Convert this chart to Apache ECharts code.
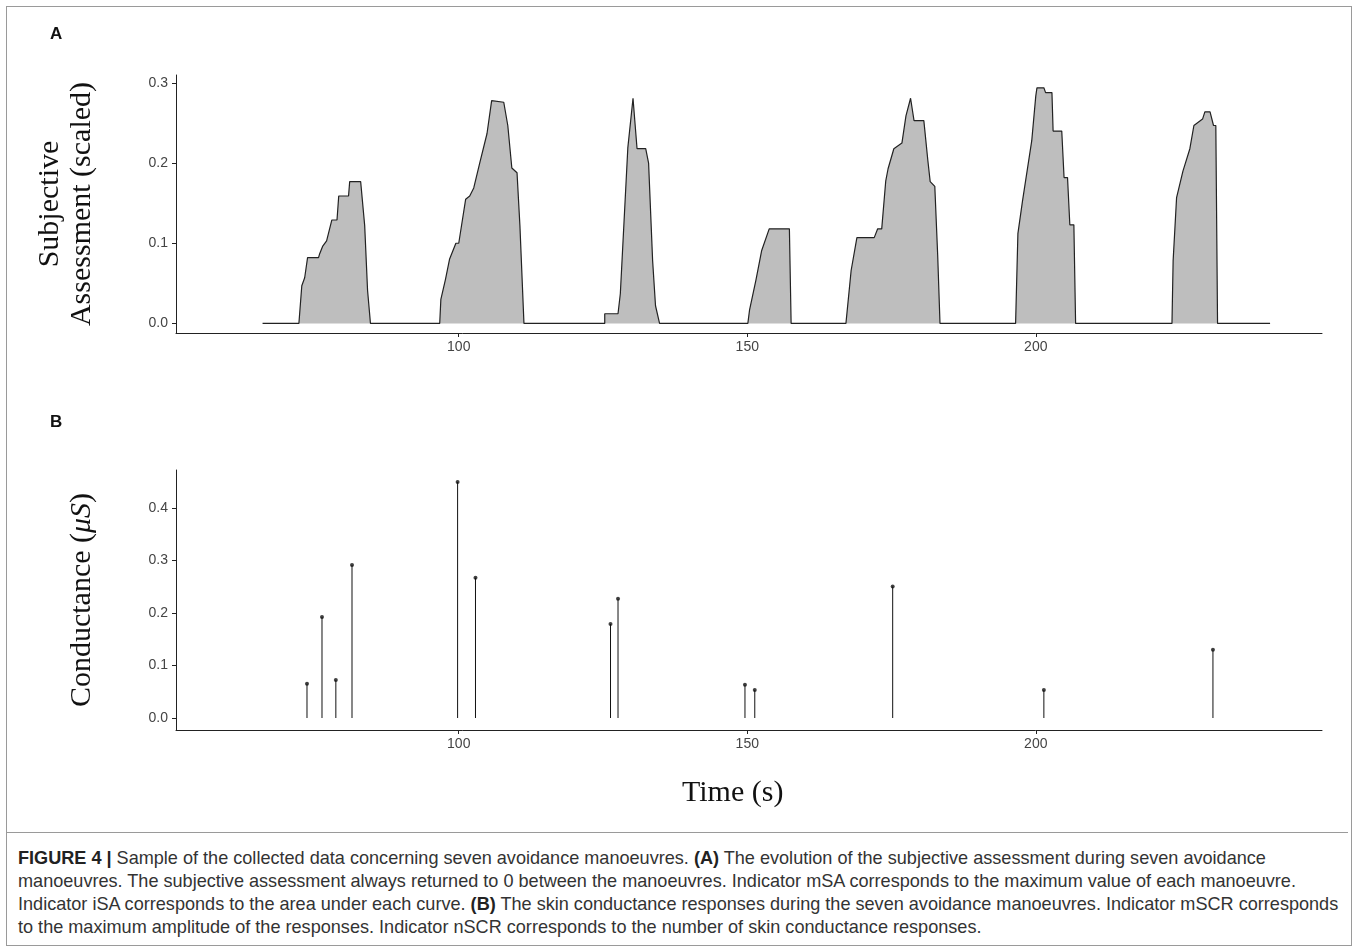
<!DOCTYPE html>
<html>
<head>
<meta charset="utf-8">
<title>Figure 4</title>
<script src="https://cdn.jsdelivr.net/npm/echarts@6/dist/echarts.min.js"></script>
<style>
  body { margin: 0; background: #fff; font-family: "Liberation Sans", Arial, sans-serif; }
  #frame { position: absolute; left: 6px; top: 6px; width: 1344px; height: 938px; border: 1px solid #9a9a9a; }
  #chart { position: absolute; left: 0; top: 0; width: 1358px; height: 830px; }
  #caption { position: absolute; left: 6px; top: 832px; width: 1330px; padding: 14px 0 10px 12px; border-top: 1px solid #9a9a9a;
             font-family: "Liberation Sans", sans-serif;
             font-size: 18.1px; line-height: 23px; color: #333; white-space: nowrap; }
  #caption b { color: #222; }
</style>
</head>
<body>
<div id="frame"></div>
<div id="chart"></div>
<div id="caption"><b>FIGURE 4 |</b> Sample of the collected data concerning seven avoidance manoeuvres. <b>(A)</b> The evolution of the subjective assessment during seven avoidance<br>manoeuvres. The subjective assessment always returned to 0 between the manoeuvres. Indicator mSA corresponds to the maximum value of each manoeuvre.<br>Indicator iSA corresponds to the area under each curve. <b>(B)</b> The skin conductance responses during the seven avoidance manoeuvres. Indicator mSCR corresponds<br>to the maximum amplitude of the responses. Indicator nSCR corresponds to the number of skin conductance responses.</div>
<script>
// panel A: subjective assessment, [time, value]
var saTime = [66.0,72.3,72.8,73.3,73.8,75.7,75.9,76.4,77.1,78.0,78.9,79.2,80.9,81.1,83.0,83.7,84.2,84.7,
  96.7,96.9,97.7,98.4,99.5,100.0,101.2,101.9,102.6,103.6,104.9,105.7,107.8,108.5,109.2,110.1,110.6,111.3,
  125.3,125.3,127.6,128.0,129.3,130.2,130.9,132.4,132.9,133.6,134.1,134.8,
  150.1,150.4,151.5,152.5,153.8,157.3,157.6,
  167.1,168.0,169.0,172.0,172.6,173.3,174.0,174.4,175.4,176.8,177.5,178.3,178.9,180.6,181.3,181.7,182.5,183.0,183.4,
  196.5,196.9,197.7,199.3,200.0,200.2,201.4,201.7,202.8,203.0,204.5,204.9,205.5,205.9,206.6,206.9,
  223.6,223.8,224.4,225.5,226.7,227.4,228.9,229.3,230.2,230.8,231.2,231.5,240.6];
var saValue = [0,0,0.047,0.057,0.082,0.082,0.087,0.096,0.103,0.129,0.129,0.159,0.159,0.177,0.177,0.122,0.041,0,
  0,0.03,0.055,0.08,0.10,0.10,0.155,0.159,0.169,0.199,0.237,0.278,0.276,0.247,0.194,0.188,0.122,0,
  0,0.012,0.012,0.037,0.219,0.281,0.218,0.218,0.20,0.078,0.022,0,
  0,0.017,0.054,0.091,0.118,0.118,0,
  0,0.066,0.107,0.107,0.118,0.118,0.178,0.193,0.218,0.225,0.259,0.281,0.253,0.253,0.203,0.177,0.171,0.085,0,
  0,0.112,0.153,0.228,0.284,0.294,0.294,0.288,0.288,0.24,0.24,0.182,0.182,0.123,0.123,0,
  0,0.078,0.157,0.19,0.218,0.247,0.255,0.264,0.264,0.247,0.247,0,0];

// panel B: skin conductance responses
var scrTime = [73.7,76.3,78.7,81.5,99.8,102.9,126.3,127.6,149.6,151.3,175.2,201.4,230.7];
var scrAmp = [0.065,0.192,0.072,0.291,0.449,0.267,0.179,0.227,0.063,0.053,0.25,0.053,0.13];

var xTicks = [100, 150, 200];
var yTicksA = [0, 0.1, 0.2, 0.3];
var yTicksB = [0, 0.1, 0.2, 0.3, 0.4];

var saData = saTime.map(function (t, i) { return [t, saValue[i]]; });
var scrData = scrTime.map(function (t, i) { return [t, scrAmp[i]]; });

var chart = echarts.init(document.getElementById('chart'));
var lbl = { color: '#444', fontSize: 14, fontFamily: 'Liberation Sans' };
function xAxis(idx) {
  return {
    type: 'value', gridIndex: idx, min: 51, max: 249.6,
    axisLine: { onZero: false, lineStyle: { color: '#222' } },
    axisTick: { customValues: xTicks, length: 4, lineStyle: { color: '#222' } },
    axisLabel: Object.assign({ customValues: xTicks, margin: 7 }, lbl),
    splitLine: { show: false }
  };
}
function yAxis(idx, min, max, ticks, name) {
  return {
    type: 'value', gridIndex: idx, min: min, max: max,
    name: name, nameLocation: 'middle', nameGap: 78, nameRotate: 90,
    nameTextStyle: { fontFamily: 'Liberation Serif', fontSize: 30, color: '#111', lineHeight: 32,
      rich: { it: { fontFamily: 'Liberation Serif', fontStyle: 'italic', fontSize: 30, color: '#111' } } },
    axisLine: { show: true, lineStyle: { color: '#222' } },
    axisTick: { show: true, customValues: ticks, length: 4, lineStyle: { color: '#222' } },
    axisLabel: Object.assign({ customValues: ticks, margin: 8, formatter: function (v) { return v.toFixed(1); } }, lbl),
    splitLine: { show: false }
  };
}

chart.setOption({
  animation: false,
  grid: [
    { left: 176, right: 36, top: 75, height: 258 },
    { left: 176, right: 36, top: 470, height: 260 }
  ],
  graphic: [
    { type: 'text', left: 50, top: 26, style: { text: 'A', font: 'bold 17px "Liberation Sans"', fill: '#111' } },
    { type: 'text', left: 50, top: 414, style: { text: 'B', font: 'bold 17px "Liberation Sans"', fill: '#111' } },
    { type: 'text', left: 682, top: 778, style: { text: 'Time (s)', font: '30px "Liberation Serif"', fill: '#111' } }
  ],
  xAxis: [xAxis(0), xAxis(1)],
  yAxis: [
    yAxis(0, -0.012, 0.31, yTicksA, 'Subjective\nAssessment (scaled)'),
    yAxis(1, -0.023, 0.472, yTicksB, 'Conductance ({it|μS})')
  ],
  series: [
    {
      type: 'line', xAxisIndex: 0, yAxisIndex: 0, data: saData, showSymbol: false,
      lineStyle: { color: '#222', width: 1.2 }, areaStyle: { color: '#bebebe', opacity: 1, origin: 0 }
    },
    {
      type: 'bar', xAxisIndex: 1, yAxisIndex: 1, data: scrData, barWidth: 1,
      itemStyle: { color: '#111' }
    },
    {
      type: 'scatter', xAxisIndex: 1, yAxisIndex: 1, data: scrData, symbolSize: 4,
      itemStyle: { color: '#111' }
    }
  ]
});
</script>
</body>
</html>
